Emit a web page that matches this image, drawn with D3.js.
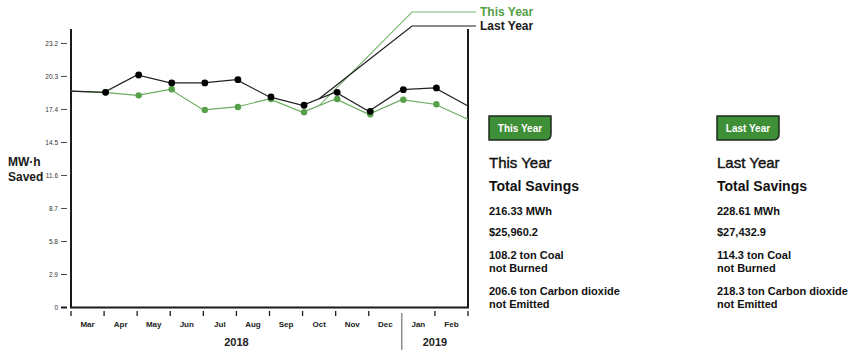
<!DOCTYPE html>
<html>
<head>
<meta charset="utf-8">
<script src="https://cdn.jsdelivr.net/npm/d3@7"></script>
<style>
  html, body { margin: 0; padding: 0; background: #fff; }
  svg { display: block; font-family: "Liberation Sans", Arial, Helvetica, sans-serif; }
</style>
</head>
<body>
<svg id="chart" width="854" height="354"></svg>
<script>
// ---- data ----
const months = ["Mar", "Apr", "May", "Jun", "Jul", "Aug", "Sep", "Oct", "Nov", "Dec", "Jan", "Feb"];
const years = [{ label: "2018", from: 0, to: 10 }, { label: "2019", from: 10, to: 12 }];
const thisYear = [19.02, 18.91, 18.64, 19.17, 17.36, 17.62, 18.32, 17.15, 18.32, 16.98, 18.26, 17.86, 16.54];
const lastYear = [19.02, 18.91, 20.43, 19.73, 19.73, 20.02, 18.50, 17.77, 18.91, 17.24, 19.14, 19.29, 17.71];
const yTicks = [0, 2.9, 5.8, 8.7, 11.6, 14.5, 17.4, 20.3, 23.2];
const yMax = 24.47;
const seriesNames = ["This Year", "Last Year"];
const summaryThis = ["216.33 MWh", "$25,960.2", ["108.2 ton Coal", "not Burned"], ["206.6 ton Carbon dioxide", "not Emitted"]];
const summaryLast = ["228.61 MWh", "$27,432.9", ["114.3 ton Coal", "not Burned"], ["218.3 ton Carbon dioxide", "not Emitted"]];

const GREEN = "#55a048";
const GREEN_LEADER = "#7fb878";
const BLACK = "#1a1a1a";

const svg = d3.select("#chart");

const x = d3.scaleLinear().domain([0, 12]).range([71, 468]);
const y = d3.scaleLinear().domain([0, yMax]).range([307.5, 29]);

// ---- y axis ticks ----
const yAx = svg.append("g");
yTicks.forEach(t => {
  yAx.append("line")
    .attr("x1", 61).attr("x2", 67)
    .attr("y1", y(t)).attr("y2", y(t))
    .attr("stroke", BLACK).attr("stroke-width", t === 0 ? 2 : 0.8);
  yAx.append("text")
    .attr("x", 58).attr("y", y(t)).attr("dy", "0.35em")
    .attr("text-anchor", "end").attr("font-size", 6.5).attr("fill", "#333")
    .text(t === 0 ? "0" : t.toFixed(1));
});

// y title
svg.append("text").attr("x", 8).attr("y", 166).attr("font-size", 12).attr("font-weight", "bold").attr("fill", BLACK).text("MW·h");
svg.append("text").attr("x", 8).attr("y", 181).attr("font-size", 12).attr("font-weight", "bold").attr("fill", BLACK).text("Saved");

// ---- frame ----
svg.append("path")
  .attr("d", `M${x(0)},${y(yMax)} V${y(0)} H${x(12)} V${y(yMax)}`)
  .attr("fill", "none").attr("stroke", BLACK).attr("stroke-width", 2);

// ---- x ticks ----
d3.range(0, 13).forEach(i => {
  if (i === 10) {
    svg.append("line").attr("x1", x(i)).attr("x2", x(i)).attr("y1", 313).attr("y2", 350)
      .attr("stroke", "#555").attr("stroke-width", 1);
  } else {
    svg.append("line").attr("x1", x(i)).attr("x2", x(i)).attr("y1", 311).attr("y2", 316)
      .attr("stroke", BLACK).attr("stroke-width", 1.3);
  }
});
months.forEach((m, i) => {
  svg.append("text").attr("x", x(i + 0.5)).attr("y", 324).attr("dy", "0.35em")
    .attr("text-anchor", "middle").attr("font-size", 8).attr("font-weight", "bold").attr("fill", "#222")
    .text(m);
});
years.forEach(yr => {
  svg.append("text").attr("x", (x(yr.from) + x(yr.to)) / 2).attr("y", 342).attr("dy", "0.35em")
    .attr("text-anchor", "middle").attr("font-size", 11).attr("font-weight", "bold").attr("fill", "#222")
    .text(yr.label);
});

// ---- leader lines & legend ----
const line = d3.line().x((d, i) => x(i)).y(d => y(d));
function leader(data, endY, color) {
  const sx = x(7.5);
  const sy = y((data[7] + data[8]) / 2);
  svg.append("path")
    .attr("d", `M${sx},${sy} L412,${endY} H476`)
    .attr("fill", "none").attr("stroke", color).attr("stroke-width", 1.2);
}
leader(thisYear, 12, GREEN_LEADER);
leader(lastYear, 26, BLACK);
svg.append("text").attr("x", 480).attr("y", 12).attr("dy", "0.35em").attr("font-size", 12).attr("font-weight", "bold").attr("fill", GREEN).text(seriesNames[0]);
svg.append("text").attr("x", 480).attr("y", 26).attr("dy", "0.35em").attr("font-size", 12).attr("font-weight", "bold").attr("fill", BLACK).text(seriesNames[1]);

// ---- series ----
function drawSeries(data, color, lineColor, r) {
  svg.append("path").datum(data).attr("d", line)
    .attr("fill", "none").attr("stroke", lineColor).attr("stroke-width", 1.2);
  svg.append("g").selectAll("circle").data(data.slice(1, 12)).join("circle")
    .attr("cx", (d, i) => x(i + 1) + 1.5).attr("cy", d => y(d)).attr("r", r).attr("fill", color);
}
drawSeries(thisYear, GREEN, "#6aad5e", 3.2);
drawSeries(lastYear, "#000", "#222", 3.4);

// ---- summary panels ----
function panel(x0, name, vals) {
  const g = svg.append("g");
  // badge with rounded bottom-right corner
  const w = 62, h = 24, bx = x0, by = 116, rr = 6;
  g.append("path")
    .attr("d", `M${bx},${by} H${bx + w} V${by + h - rr} Q${bx + w},${by + h} ${bx + w - rr},${by + h} H${bx} Z`)
    .attr("fill", "#3f8f38").attr("stroke", "#1d2b1d").attr("stroke-width", 1.5);
  g.append("text").attr("x", bx + w / 2).attr("y", by + h / 2).attr("dy", "0.35em")
    .attr("text-anchor", "middle").attr("font-size", 10).attr("font-weight", "bold").attr("fill", "#fff").text(name);
  g.append("text").attr("x", x0).attr("y", 163).attr("dy", "0.35em").attr("font-size", 15)
    .attr("fill", "#111").attr("stroke", "#111").attr("stroke-width", 0.4).text(name);
  g.append("text").attr("x", x0).attr("y", 186).attr("dy", "0.35em").attr("font-size", 14).attr("font-weight", "bold").attr("fill", "#111").text("Total Savings");
  const rows = [211, 232, 255, 291];
  vals.forEach((v, i) => {
    const lines = Array.isArray(v) ? v : [v];
    lines.forEach((t, j) => {
      g.append("text").attr("x", x0).attr("y", rows[i] + j * 13).attr("dy", "0.35em")
        .attr("font-size", 11).attr("font-weight", "bold").attr("fill", "#111").text(t);
    });
  });
}
panel(489, seriesNames[0], summaryThis);
panel(717, seriesNames[1], summaryLast);
</script>
</body>
</html>
